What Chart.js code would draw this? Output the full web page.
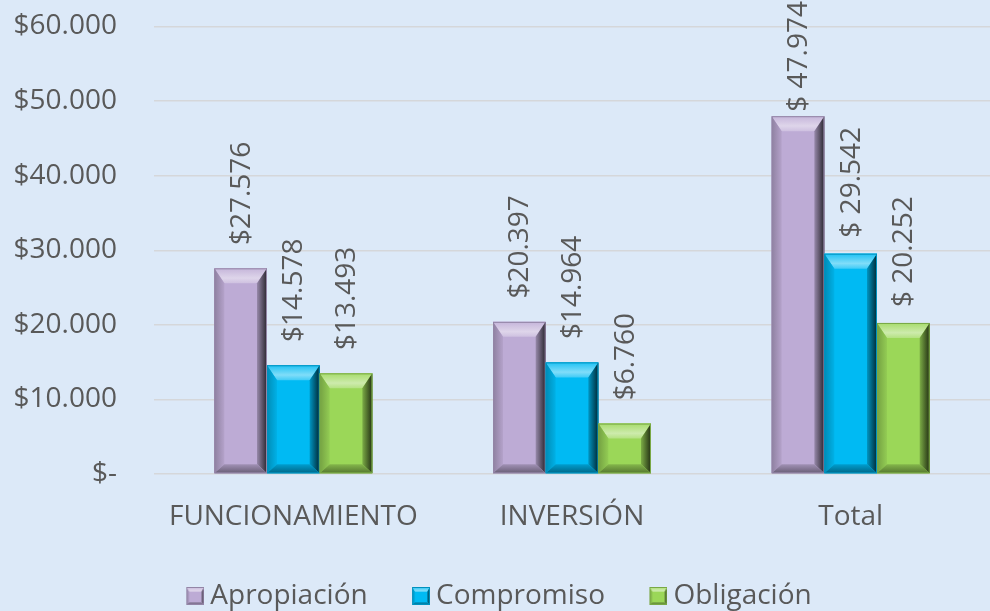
<!DOCTYPE html>
<html><head><meta charset="utf-8">
<style>html,body{margin:0;padding:0;background:#DCE9F8;overflow:hidden}#wrap{width:990px;height:611px;position:relative}</style>
<script src="https://cdn.jsdelivr.net/npm/chart.js@4.4.1/dist/chart.umd.min.js"></script>
</head><body><div id="wrap"><canvas id="c" width="990" height="611"></canvas></div>
<script>
// ---- data ----
const categories = ['FUNCIONAMIENTO', 'INVERSIÓN', 'Total'];
const seriesNames = ['Apropiación', 'Compromiso', 'Obligación'];
const apropiacion = [27576, 20397, 47974];
const compromiso = [14578, 14964, 29542];
const obligacion = [13493, 6760, 20252];
const apropiacionLabels = ['$27.576', '$20.397', '$ 47.974'];
const compromisoLabels = ['$14.578', '$14.964', '$ 29.542'];
const obligacionLabels = ['$13.493', '$6.760', '$ 20.252'];
const yTickValues = [0, 10000, 20000, 30000, 40000, 50000, 60000];

// ---- styles ----
const FONT = 'Open Sans';
const FS = 28;
const TEXT = '#595959';
const baseColors = ['#BDABD5', '#00BAF3', '#9BD758'];
const seriesValues = [apropiacion, compromiso, obligacion];
const seriesLabels = [apropiacionLabels, compromisoLabels, obligacionLabels];

function hexToRgb(h){h=h.replace('#','');return [parseInt(h.substr(0,2),16),parseInt(h.substr(2,2),16),parseInt(h.substr(4,2),16)];}
function mix(h, f){
  const c = hexToRgb(h).map(v => f >= 0 ? Math.round(v + (255 - v) * f) : Math.round(v * (1 + f)));
  return 'rgb(' + c.join(',') + ')';
}
function poly(ctx, pts, fill){ctx.beginPath();ctx.moveTo(pts[0][0],pts[0][1]);for(let i=1;i<pts.length;i++)ctx.lineTo(pts[i][0],pts[i][1]);ctx.closePath();ctx.fillStyle=fill;ctx.fill();}
function drawBevel(ctx, l, t, r, b, base, sTop, sSide, sBot){
  const w = r - l, h = b - t;
  sSide = Math.min(sSide, w / 2); sTop = Math.min(sTop, h / 2); sBot = Math.min(sBot, h / 2);
  ctx.save();
  ctx.fillStyle = base; ctx.fillRect(l, t, w, h);
  // top facet
  const tg = ctx.createLinearGradient(0, t, 0, t + sTop);
  tg.addColorStop(0, mix(base, 0.12)); tg.addColorStop(0.65, mix(base, 0.5)); tg.addColorStop(1, mix(base, 0.25));
  poly(ctx, [[l, t], [r, t], [r - sSide, t + sTop], [l + sSide, t + sTop]], tg);
  // left facet
  const lg = ctx.createLinearGradient(l, 0, l + sSide, 0);
  lg.addColorStop(0, mix(base, -0.25)); lg.addColorStop(1, mix(base, -0.05));
  poly(ctx, [[l, t], [l + sSide, t + sTop], [l + sSide, b - sBot], [l, b]], lg);
  // right facet
  const rg = ctx.createLinearGradient(r - sSide, 0, r, 0);
  rg.addColorStop(0, mix(base, -0.2)); rg.addColorStop(1, mix(base, -0.78));
  poly(ctx, [[r, t], [r, b], [r - sSide, b - sBot], [r - sSide, t + sTop]], rg);
  // bottom facet
  const bg = ctx.createLinearGradient(0, b - sBot, 0, b);
  bg.addColorStop(0, mix(base, -0.15)); bg.addColorStop(1, mix(base, -0.45));
  poly(ctx, [[l, b], [l + sSide, b - sBot], [r - sSide, b - sBot], [r, b]], bg);
  ctx.strokeStyle = mix(base, -0.22); ctx.lineWidth = 1;
  ctx.strokeRect(l + 0.5, t + 0.5, w - 1, h - 1);
  ctx.restore();
}
function makeMarker(base){
  const cv = document.createElement('canvas'); cv.width = 34; cv.height = 18;
  drawBevel(cv.getContext('2d'), 16, 0, 34, 18, base, 5, 3, 3);
  return cv;
}
const markers = baseColors.map(makeMarker);

function fmt(v){ return v === 0 ? '$-' : '$' + String(v).replace(/\B(?=(\d{3})+(?!\d))/g, '.'); }

const bevelPlugin = {
  id: 'bevel',
  afterDatasetsDraw(chart){
    const ctx = chart.ctx;
    chart.data.datasets.forEach((ds, di) => {
      const meta = chart.getDatasetMeta(di);
      meta.data.forEach((el) => {
        const p = el.getProps(['x', 'y', 'base', 'width'], true);
        drawBevel(ctx, p.x - p.width / 2, p.y, p.x + p.width / 2, p.base, baseColors[di], 15, 10, 9);
      });
    });
    ctx.save();
    ctx.font = FS + 'px "' + FONT + '"';
    ctx.fillStyle = TEXT;
    ctx.textAlign = 'left';
    ctx.textBaseline = 'middle';
    const spaceW = ctx.measureText(' ').width;
    chart.data.datasets.forEach((ds, di) => {
      const meta = chart.getDatasetMeta(di);
      meta.data.forEach((el, i) => {
        const p = el.getProps(['x', 'y'], true);
        const txt = seriesLabels[di][i];
        const tw = ctx.measureText(txt).width;
        let start = p.y - 16 - (txt.charAt(1) === ' ' ? 0 : spaceW);
        if (start - tw < 1) start = 1 + tw;
        ctx.save();
        ctx.translate(p.x + 1, start);
        ctx.rotate(-Math.PI / 2);
        ctx.fillText(txt, 0, 0);
        ctx.restore();
      });
    });
    ctx.restore();
  }
};

new Chart(document.getElementById('c'), {
  type: 'bar',
  data: {
    labels: categories,
    datasets: seriesNames.map((name, i) => ({
      label: name,
      data: seriesValues[i],
      backgroundColor: baseColors[i],
      borderWidth: 0,
      barPercentage: 1,
      categoryPercentage: 0.567
    }))
  },
  options: {
    responsive: false,
    devicePixelRatio: 1,
    animation: false,
    layout: { padding: { top: 26.5, left: 0, right: 0, bottom: -9 } },
    scales: {
      y: {
        min: 0, max: 60000,
        afterBuildTicks(scale){ scale.ticks = yTickValues.map(v => ({ value: v })); },
        afterFit(scale){ scale.width = 154; scale.paddingTop = 10; scale.paddingBottom = 10; },
        ticks: { callback: (v) => fmt(v), color: TEXT, font: { family: FONT, size: FS }, padding: 37 },
        grid: { color: '#D5D7DA', lineWidth: 1.5, drawTicks: false },
        border: { display: false }
      },
      x: {
        afterFit(scale){ scale.height = 108; },
        ticks: { color: TEXT, font: { family: FONT, size: FS }, padding: 26, maxRotation: 0 },
        grid: { display: false, drawTicks: false },
        border: { display: false }
      }
    },
    plugins: {
      tooltip: { enabled: false },
      legend: {
        position: 'bottom',
        labels: {
          usePointStyle: true,
          boxWidth: 18, boxHeight: 18,
          padding: 0,
          color: TEXT,
          font: { family: FONT, size: FS },
          generateLabels(chart){
            return chart.data.datasets.map((ds, i) => ({
              text: ds.label + (i < chart.data.datasets.length - 1 ? '     ' : ''),
              pointStyle: markers[i],
              fillStyle: baseColors[i],
              strokeStyle: 'transparent',
              lineWidth: 0,
              fontColor: TEXT,
              hidden: false,
              datasetIndex: i
            }));
          }
        }
      }
    }
  },
  plugins: [bevelPlugin]
});
</script>
</body></html>
